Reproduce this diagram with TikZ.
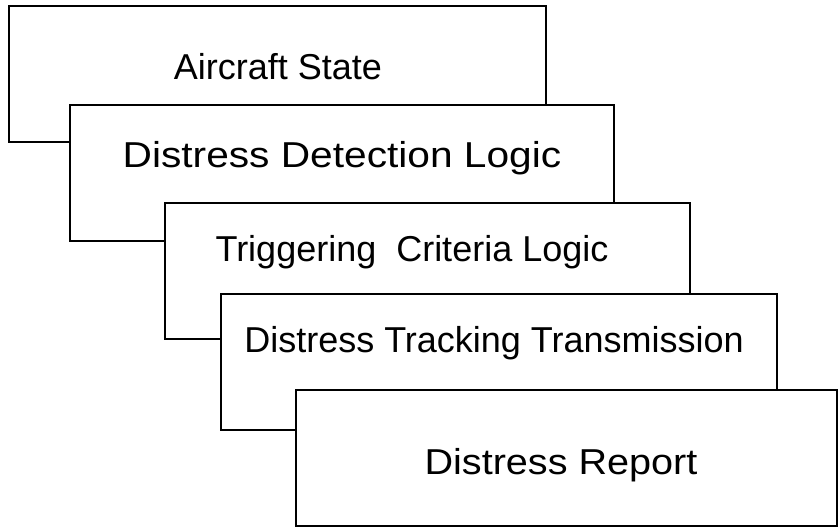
\documentclass[tikz,border=0pt]{standalone}
\usepackage{fontspec}
\setmainfont{Liberation Sans}
\begin{document}
\begin{tikzpicture}[x=1pt,y=-1pt,
  stage/.style={draw=black,fill=white,line width=2pt},
  label/.style={anchor=base,inner sep=0pt,font=\fontsize{36}{40}\selectfont}]
\useasboundingbox[fill=white] (0,0) rectangle (838,527);
% stacked stage boxes, each drawn over the previous one
\draw[stage] (9,6) rectangle (546,142);
\node[label] (s1) at (278,80) {Aircraft State};
\draw[stage] (70,105) rectangle (614,241);
\node[label] (s2) at (342,167) {\scalebox{1.13}[1]{Distress Detection Logic}};
\draw[stage] (165,203) rectangle (690,339);
\node[label] (s3) at (412,261) {Triggering\ \ Criteria Logic};
\draw[stage] (221,294) rectangle (777,430);
\node[label] (s4) at (494,352) {Distress Tracking Transmission};
\draw[stage] (296,390) rectangle (837,526);
\node[label] (s5) at (561,474) {\scalebox{1.10}[1]{Distress Report}};
\end{tikzpicture}
\end{document}
